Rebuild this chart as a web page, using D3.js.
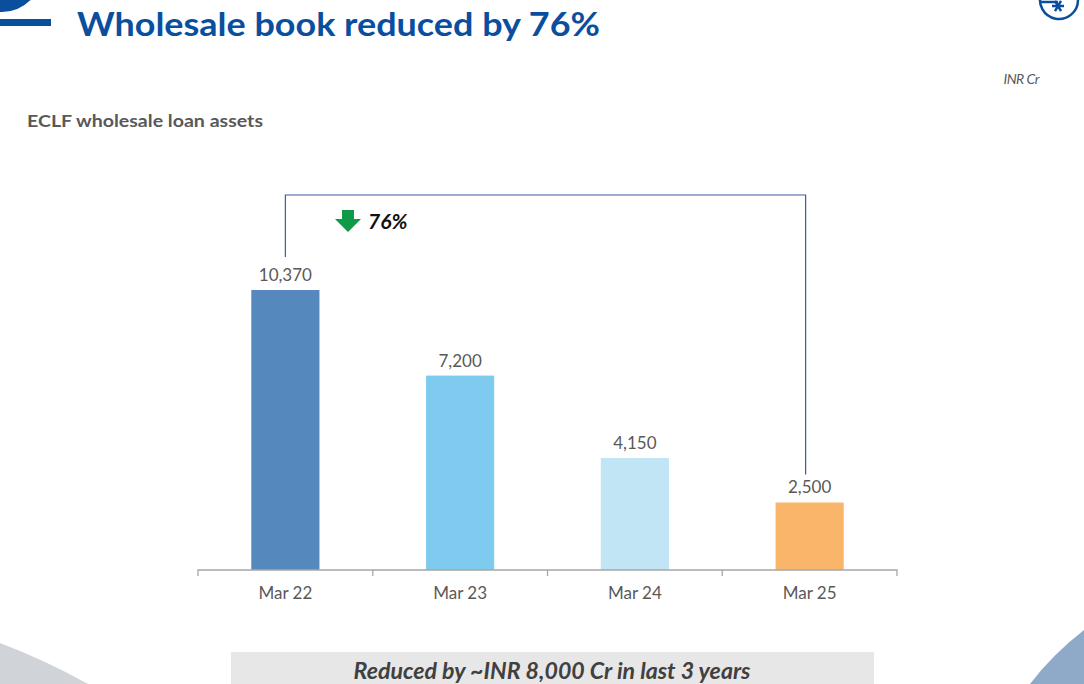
<!DOCTYPE html>
<html>
<head>
<meta charset="utf-8">
<script src="https://d3js.org/d3.v7.min.js"></script>
<style>
  body { margin: 0; background: #fff; }
  svg { display: block; font-family: Lato, "Open Sans", sans-serif; }
</style>
</head>
<body>
<svg id="chart" width="1084" height="684"></svg>
<script>
// data
const categories = ["Mar 22", "Mar 23", "Mar 24", "Mar 25"];
const values = [10370, 7200, 4150, 2500];
const labels = ["10,370", "7,200", "4,150", "2,500"];
const dropLabel = "76%";

const svg = d3.select("#chart"),
    width = +svg.attr("width"),
    height = +svg.attr("height");

// decorations of the slide template
svg.append("circle").attr("cx", 2).attr("cy", -28).attr("r", 40).attr("fill", "#0a4f9e");
svg.append("rect").attr("x", 0).attr("y", 19).attr("width", 51).attr("height", 7).attr("fill", "#0a4f9e");

const logo = svg.append("g").attr("fill", "none").attr("stroke", "#0a4f9e");
logo.append("path")
    .attr("d", d3.arc()({innerRadius: 19, outerRadius: 19, startAngle: Math.PI * 0.5, endAngle: Math.PI * 1.62}))
    .attr("transform", "translate(1059,0)")
    .attr("stroke-width", 2.5);
logo.append("line").attr("x1", 1040).attr("x2", 1058).attr("y1", 2).attr("y2", 2).attr("stroke-width", 2.5);
[0, 60, 120].forEach(a => {
  const r = 6, t = a * Math.PI / 180;
  logo.append("line")
      .attr("x1", 1058 - r * Math.cos(t)).attr("y1", 6 - r * Math.sin(t))
      .attr("x2", 1058 + r * Math.cos(t)).attr("y2", 6 + r * Math.sin(t))
      .attr("stroke-width", 2.5);
});

svg.append("path")
    .attr("d", "M0,643 Q45,660 88,684 L0,684 Z")
    .attr("fill", "#d0d3d7");
svg.append("path")
    .attr("d", "M1084,630 Q1052,655 1030,684 L1084,684 Z")
    .attr("fill", "#8fa9c9");

// titles
svg.append("text")
    .attr("x", 77).attr("y", 36)
    .attr("font-size", 33).attr("font-weight", "bold")
    .attr("fill", "#0a4f9e")
    .attr("textLength", 523).attr("lengthAdjust", "spacingAndGlyphs")
    .text("Wholesale book reduced by 76%");

svg.append("text")
    .attr("x", 27).attr("y", 127)
    .attr("font-size", 17).attr("font-weight", "bold")
    .attr("fill", "#595959")
    .attr("textLength", 236).attr("lengthAdjust", "spacingAndGlyphs")
    .text("ECLF wholesale loan assets");

svg.append("text")
    .attr("x", 1039).attr("y", 84)
    .attr("text-anchor", "end")
    .attr("font-size", 14).attr("font-style", "italic")
    .attr("fill", "#595959")
    .attr("letter-spacing", -0.5)
    .text("INR Cr");

// scales
const x = d3.scaleBand()
    .domain(categories)
    .range([198, 897])
    .paddingInner(0.61)
    .paddingOuter(0.305);

const y = d3.scaleLinear()
    .domain([0, 10370])
    .range([570, 290]);

const color = d3.scaleOrdinal()
    .domain(categories)
    .range(["#5589be", "#7ecbef", "#c2e5f6", "#f9b66b"]);

// bracket from the first to the last bar
const cx = d => x(d) + x.bandwidth() / 2;
const topY = 195;
svg.append("path")
    .attr("d", d3.line()([
      [cx(categories[0]), y(values[0]) - 33],
      [cx(categories[0]), topY],
      [cx(categories[3]) - 4, topY],
      [cx(categories[3]) - 4, y(values[3]) - 28]
    ]))
    .attr("fill", "none")
    .attr("stroke", "#3a5aa8")
    .attr("stroke-width", 1.2);

// down arrow and percentage
svg.append("path")
    .attr("d", "M342,210 L354,210 L354,219 L361,219 L348,232 L335,219 L342,219 Z")
    .attr("fill", "#0f9a48");
svg.append("text")
    .attr("x", 368).attr("y", 229)
    .attr("font-size", 21).attr("font-weight", "bold").attr("font-style", "italic")
    .attr("fill", "#111")
    .text(dropLabel);

// bars
svg.append("g")
  .selectAll("rect")
  .data(categories)
  .join("rect")
    .attr("x", d => x(d))
    .attr("y", (d, i) => y(values[i]))
    .attr("width", x.bandwidth())
    .attr("height", (d, i) => y(0) - y(values[i]))
    .attr("fill", d => color(d));

svg.append("g")
  .selectAll("text")
  .data(categories)
  .join("text")
    .attr("x", d => cx(d))
    .attr("y", (d, i) => y(values[i]) - 9)
    .attr("text-anchor", "middle")
    .attr("font-size", 17)
    .attr("fill", "#595959")
    .text((d, i) => labels[i]);

// x axis with ticks between the categories
const axis = svg.append("g").attr("transform", `translate(0,${y(0)})`);
axis.call(d3.axisBottom(x).tickSize(0).tickPadding(17))
    .call(g => g.select(".domain").attr("stroke", "#a6a6a6").attr("stroke-width", 1.3))
    .call(g => g.selectAll(".tick text")
        .attr("font-family", "Lato, 'Open Sans', sans-serif")
        .attr("font-size", 17).attr("fill", "#595959"));
axis.select(".domain").attr("d", `M${x.range()[0]},6V0H${x.range()[1]}V6`);
axis.selectAll(".sep")
  .data(categories.slice(1))
  .join("line")
    .attr("class", "sep")
    .attr("x1", d => x(d) - x.step() * x.paddingInner() / 2)
    .attr("x2", d => x(d) - x.step() * x.paddingInner() / 2)
    .attr("y1", 0).attr("y2", 6)
    .attr("stroke", "#a6a6a6").attr("stroke-width", 1.3);

// footer box
svg.append("rect")
    .attr("x", 231).attr("y", 652)
    .attr("width", 643).attr("height", 40)
    .attr("fill", "#e7e7e7");
svg.append("text")
    .attr("x", 552).attr("y", 679)
    .attr("text-anchor", "middle")
    .attr("font-size", 22).attr("font-weight", "bold").attr("font-style", "italic")
    .attr("fill", "#404040")
    .attr("textLength", 397).attr("lengthAdjust", "spacingAndGlyphs")
    .text("Reduced by ~INR 8,000 Cr in last 3 years");
</script>
</body>
</html>
